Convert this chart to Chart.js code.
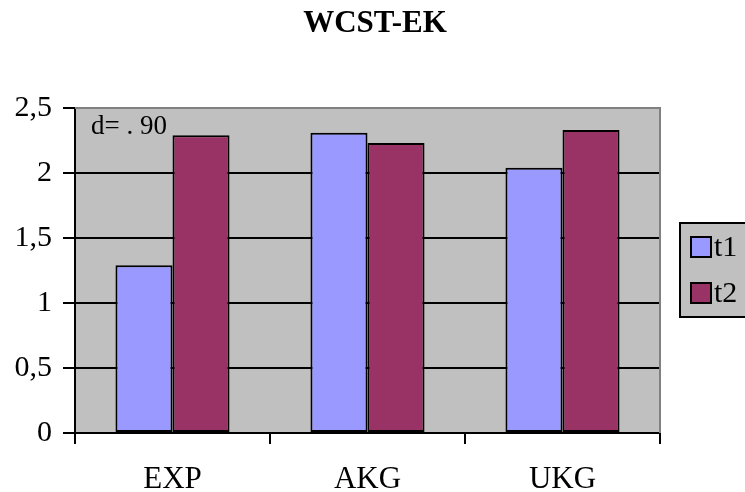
<!DOCTYPE html>
<html>
<head>
<meta charset="utf-8">
<script src="https://cdn.jsdelivr.net/npm/chart.js@4.4.0/dist/chart.umd.min.js"></script>
<style>
  html, body { margin: 0; padding: 0; background: #fff; }
  #wrap { width: 745px; height: 492px; }
</style>
</head>
<body>
<div id="wrap"><canvas id="dataChart" width="745" height="492"></canvas></div>
<script>
// data
const categories = ["EXP", "AKG", "UKG"];
const t1Values = [1.29, 2.31, 2.04];
const t2Values = [2.29, 2.23, 2.33];
const seriesLabels = ["t1", "t2"];
const chartTitle = "WCST-EK";
const note = "d= . 90";

const serif = "'Liberation Serif', 'Times New Roman', serif";

// gray plot background + frame, title, note, legend box
const decor = {
  id: "decor",
  beforeDraw(chart) {
    const { ctx, chartArea: a } = chart;
    ctx.save();
    ctx.fillStyle = "#c0c0c0";
    ctx.fillRect(a.left, a.top, a.right - a.left, a.bottom - a.top);
    ctx.restore();
  },
  afterDraw(chart) {
    const { ctx, chartArea: a } = chart;
    ctx.save();
    // gray top / right frame
    ctx.strokeStyle = "#808080";
    ctx.lineWidth = 2;
    ctx.beginPath();
    ctx.moveTo(a.left, a.top);
    ctx.lineTo(a.right, a.top);
    ctx.lineTo(a.right, a.bottom);
    ctx.stroke();

    // title
    ctx.fillStyle = "#000";
    ctx.font = "bold 31px " + serif;
    ctx.textAlign = "center";
    ctx.textBaseline = "middle";
    ctx.fillText(chartTitle, 375, 24);

    // note
    ctx.font = "27px " + serif;
    ctx.textAlign = "left";
    ctx.textBaseline = "alphabetic";
    ctx.fillText(note, 91, 134);

    // legend
    ctx.fillStyle = "#c0c0c0";
    ctx.fillRect(680, 223, 80, 94);
    ctx.strokeStyle = "#000";
    ctx.lineWidth = 2;
    ctx.strokeRect(680, 223, 80, 94);
    chart.data.datasets.forEach((ds, i) => {
      const y = 237 + i * 46;
      ctx.fillStyle = ds.backgroundColor;
      ctx.fillRect(691, y, 20, 20);
      ctx.strokeRect(691, y, 20, 20);
      ctx.fillStyle = "#000";
      ctx.font = "30px " + serif;
      ctx.textBaseline = "middle";
      ctx.fillText(ds.label, 714, y + 11);
    });
    ctx.restore();
  },
};

new Chart(document.getElementById("dataChart"), {
  type: "bar",
  data: {
    labels: categories,
    datasets: [
      {
        label: seriesLabels[0],
        data: t1Values,
        backgroundColor: "#9999ff",
        borderColor: "#000",
        borderWidth: 2,
        borderSkipped: false,
      },
      {
        label: seriesLabels[1],
        data: t2Values,
        backgroundColor: "#993366",
        borderColor: "#000",
        borderWidth: 2,
        borderSkipped: false,
      },
    ],
  },
  options: {
    responsive: false,
    animation: false,
    layout: { padding: { left: 0, right: 85, top: 108, bottom: 0 } },
    datasets: { bar: { categoryPercentage: 0.585, barPercentage: 1 } },
    plugins: { legend: { display: false }, title: { display: false }, tooltip: { enabled: false } },
    scales: {
      x: {
        grid: { offset: true, drawOnChartArea: false, color: "#000", lineWidth: 2, tickLength: 11 },
        border: { color: "#000", width: 2 },
        ticks: { color: "#000", font: { family: serif, size: 31 }, padding: 17 },
        afterFit(scale) { scale.height = 59; },
      },
      y: {
        min: 0,
        max: 2.5,
        grid: {
          color: (c) => (c.tick && c.tick.value === 2.5 ? "rgba(0,0,0,0)" : "#000"),
          tickColor: "#000",
          lineWidth: 2,
          tickLength: 12,
        },
        border: { color: "#000", width: 2 },
        ticks: {
          stepSize: 0.5,
          color: "#000",
          padding: 11,
          font: { family: serif, size: 30 },
          callback: (v) => String(v).replace(".", ","),
        },
        afterFit(scale) { scale.width = 75; },
      },
    },
  },
  plugins: [decor],
});
</script>
</body>
</html>
